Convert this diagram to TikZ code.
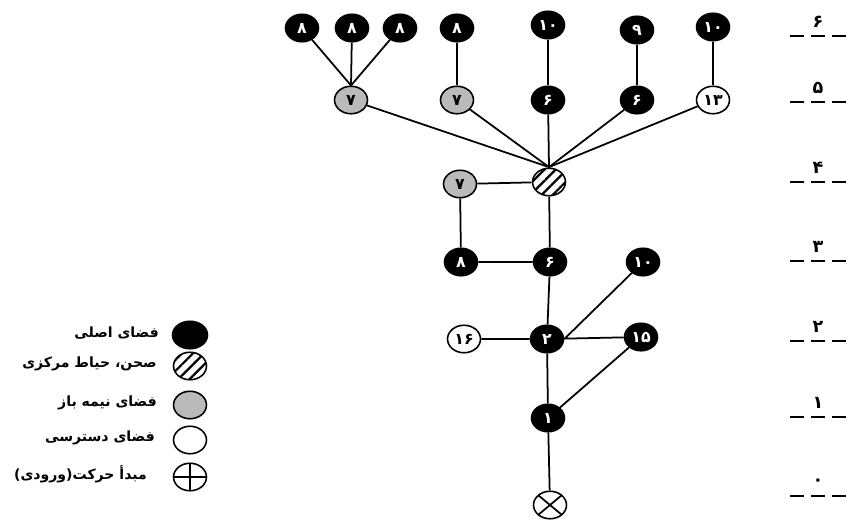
\documentclass[tikz,border=0pt]{standalone}
\usepackage{fontspec}
\newfontfamily\fafont[Script=Arabic]{DejaVu Sans}
\TeXXeTstate=1
\usetikzlibrary{shapes.geometric,patterns.meta}

\begin{document}
\begin{tikzpicture}[x=0.02cm, y=-0.02cm,
  space/.style={draw, ellipse, line width=0.9pt, minimum width=0.66cm,
    minimum height=0.55cm, inner sep=0pt, font=\fafont\bfseries\small},
  main/.style={space, fill=black, text=white},
  semi/.style={space, fill=black!27},
  access/.style={space, fill=white},
  court/.style={space, pattern={Lines[angle=45,distance=4.5pt,line width=1.3pt]}},
  entry/.style={space, path picture={\draw[line width=1pt]
    (path picture bounding box.north west) -- (path picture bounding box.south east)
    (path picture bounding box.north east) -- (path picture bounding box.south west);}},
  origin/.style={space, path picture={\draw[line width=1.1pt]
    (path picture bounding box.north) -- (path picture bounding box.south)
    (path picture bounding box.west) -- (path picture bounding box.east);}},
  edge/.style={line width=1pt},
  level/.style={font=\fafont\bfseries\normalsize},
  levelline/.style={line width=1.1pt, dash pattern=on 8pt off 4pt},
  legend/.style={font=\fafont\bfseries\footnotesize, anchor=east}
]
\useasboundingbox (0,0) rectangle (847,524);

% level 6
\node[main] (t1) at (302,28) {۸};
\node[main] (t2) at (352,28) {۸};
\node[main] (t3) at (400,28) {۸};
\node[main] (t4) at (457,28) {۸};
\node[main] (t5) at (548,25) {۱۰};
\node[main] (t6) at (637,30) {۹};
\node[main] (t7) at (713,27) {۱۰};

% level 5
\node[semi] (f1) at (351,100) {۷};
\node[semi] (f2) at (457,100) {۷};
\node[main] (f3) at (548,100) {۶};
\node[main] (f4) at (637,100) {۶};
\node[access] (f5) at (713,100) {۱۳};

% level 4
\node[court] (court) at (549,182) {};
\node[semi] (h1) at (460,184) {۷};

% level 3
\node[main] (r1) at (461,262) {۸};
\node[main] (r2) at (550,262) {۶};
\node[main] (r3) at (643,262) {۱۰};

% level 2
\node[access] (s1) at (464,339) {۱۶};
\node[main] (s2) at (547,339) {۲};
\node[main] (s3) at (641,337) {۱۵};

% level 1 and 0
\node[main] (one) at (548,418) {۱};
\node[entry] (entry) at (550,505) {};

\draw[edge] (t1) -- (f1.north) (t2) -- (f1.north) (t3) -- (f1.north);
\draw[edge] (t4) -- (f2) (t5) -- (f3) (t6) -- (f4) (t7) -- (f5);
\foreach \n in {f1,f2,f3,f4,f5}
  \draw[edge] (\n) -- (court.north);
\draw[edge] (h1) -- (court) (h1) -- (r1) (r1) -- (r2) (court) -- (r2);
\draw[edge] (r2) -- (s2) (s1) -- (s2) (s2) -- (s3) (s2.east) -- (r3);
\draw[edge] (s3) -- (one) (s2) -- (one) (one) -- (entry);

% levels
\foreach \lv/\d/\y in {6/۶/22, 5/۵/88, 4/۴/168, 3/۳/247, 2/۲/327, 1/۱/403, 0/۰/482} {
  \node[level] (lv\lv) at (818,\y) {\d};
  \draw[levelline] (790,\y+14) -- (847,\y+14);
}

% legend
\node[main, minimum width=0.7cm] (k1) at (190,335) {};
\node[court] (k2) at (190,366) {};
\node[semi] (k3) at (190,405) {};
\node[access] (k4) at (190,440) {};
\node[origin] (k5) at (190,477) {};
\node[legend] (k1t) at (165,333) {\beginR فضای اصلی\endR};
\node[legend] (k2t) at (163,364) {\beginR صحن، حیاط مرکزی\endR};
\node[legend] (k3t) at (163,403) {\beginR فضای نیمه باز\endR};
\node[legend] (k4t) at (161,438) {\beginR فضای دسترسی\endR};
\node[legend] (k5t) at (153,474) {\beginR مبدأ حرکت(ورودی)\endR};

\end{tikzpicture}
\end{document}
